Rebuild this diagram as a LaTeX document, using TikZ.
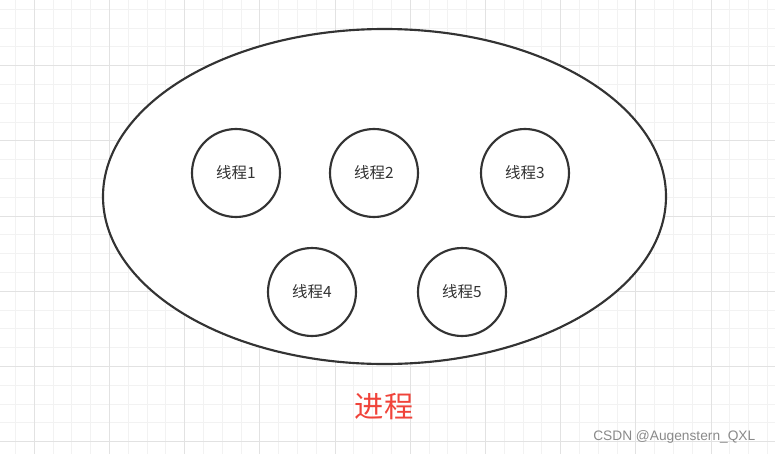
\documentclass[tikz,border=0pt]{standalone}
\usepackage{fontspec}
\usetikzlibrary{shapes.geometric}
\newfontfamily\cjk{Noto Sans CJK SC}
\setsansfont{Liberation Sans}
\definecolor{gridminor}{HTML}{F2F2F2}
\definecolor{gridmajor}{HTML}{E2E2E2}
\definecolor{strokec}{HTML}{333333}
\definecolor{redtxt}{HTML}{F0433A}
\definecolor{wmark}{HTML}{8A8A8A}
\tikzset{
  thread/.style={circle, draw=strokec, line width=1.6pt, fill=white, minimum size=88*0.75pt, inner sep=0pt, font=\cjk\fontsize{11.6}{13}\selectfont, text=strokec},
  minorline/.style={draw=gridminor, line width=0.75pt},
  majorline/.style={draw=gridmajor, line width=0.75pt}
}
\begin{document}
\begin{tikzpicture}[x=0.75pt,y=-0.75pt]
\useasboundingbox (0,0) rectangle (775,454);
\fill[white] (0,0) rectangle (775,454);
% minor grid
\foreach \i in {0,...,41} {
  \pgfmathsetmacro\xx{15.5+18.8*\i}
  \draw[minorline] (\xx,0) -- (\xx,454);
}
\foreach \i in {0,...,24} {
  \pgfmathsetmacro\yy{9.3+18.8*\i}
  \draw[minorline] (0,\yy) -- (775,\yy);
}
% major grid
\foreach \i in {0,...,10} {
  \pgfmathsetmacro\xx{34.3+75.2*\i}
  \draw[majorline] (\xx,0) -- (\xx,454);
}
\foreach \i in {0,...,5} {
  \pgfmathsetmacro\yy{65.7+75.2*\i}
  \draw[majorline] (0,\yy) -- (775,\yy);
}
% process ellipse
\node[ellipse, draw=strokec, line width=1.6pt, fill=white, minimum width=563*0.75pt, minimum height=335*0.75pt, inner sep=0pt] (proc) at (384.5,196.5) {};
\node[thread] (t1) at (236,173) {线程1};
\node[thread] (t2) at (374,173) {线程2};
\node[thread] (t3) at (525,173) {线程3};
\node[thread] (t4) at (312,292) {线程4};
\node[thread] (t5) at (462,292) {线程5};
\node[font=\cjk\fontsize{22}{25}\selectfont, text=redtxt] (lbl) at (384,407) {进程};
\node[font=\sffamily\fontsize{10.3}{12}\selectfont, text=wmark, anchor=east] (wm) at (760,437) {CSDN @Augenstern\_QXL};
\end{tikzpicture}
\end{document}
